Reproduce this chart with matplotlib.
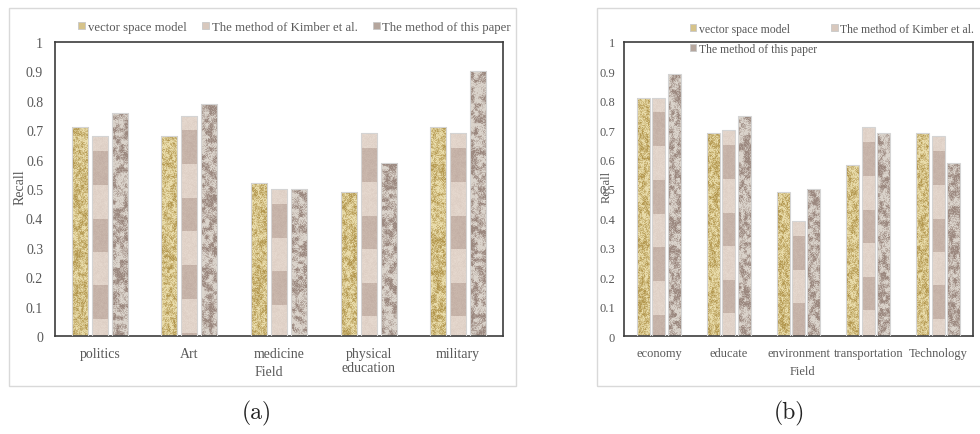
import numpy as np
import matplotlib
matplotlib.use("Agg")
import matplotlib.pyplot as plt
from matplotlib.patches import Patch, Rectangle

# recall per field, three methods
methods = ["vector space model", "The method of Kimber et al.", "The method of this paper"]

fields_a = ["politics", "Art", "medicine", "physical\neducation", "military"]
vsm_a = [0.71, 0.68, 0.52, 0.49, 0.71]
kimber_a = [0.68, 0.75, 0.50, 0.69, 0.69]
ours_a = [0.76, 0.79, 0.50, 0.59, 0.90]

fields_b = ["economy", "educate", "environment", "transportation", "Technology"]
vsm_b = [0.81, 0.69, 0.49, 0.58, 0.69]
kimber_b = [0.81, 0.70, 0.39, 0.71, 0.68]
ours_b = [0.89, 0.75, 0.50, 0.69, 0.59]

TXT = "#595959"
SERIF = ["Liberation Serif", "DejaVu Serif"]
plt.rcParams["font.family"] = SERIF

rng = np.random.default_rng(7)


def blur(n, k=1):
    out = np.zeros_like(n)
    cnt = 0
    for dy in range(-k, k + 1):
        for dx in range(-k, k + 1):
            out += np.roll(np.roll(n, dy, 0), dx, 1)
            cnt += 1
    return out / cnt


def grain(h, w, s=3, fine=0.4):
    # coarse blotches plus pixel speckle, scaled to 0..1
    coarse = rng.random((h // s + 2, w // s + 2))
    coarse = blur(np.kron(coarse, np.ones((s, s)))[:h, :w], 1)
    n = (1 - fine) * coarse + fine * rng.random((h, w))
    n -= n.min()
    return n / max(n.max(), 1e-9)


def mix(c1, c2, t):
    c1 = np.array(matplotlib.colors.to_rgb(c1))
    c2 = np.array(matplotlib.colors.to_rgb(c2))
    return c1 + (c2 - c1) * t[..., None]


def tex_gold(h, w):
    n = grain(h, w, 3, 0.45)
    return mix("#e9dcab", "#b3974f", np.clip((n - 0.25) * 1.7, 0, 1))


def tex_granite(h, w):
    n = grain(h, w, 4, 0.35)
    return mix("#dad3cb", "#9b887f", np.clip((n - 0.3) * 2.2, 0, 1))


def tex_bands(h, w, top):
    n = grain(h, w, 2, 0.5)
    d = np.linspace(0, top, h)[:, None] * np.ones((1, w))
    dark = (d >= 0.05) & (((d - 0.05) // 0.115) % 2 == 0)
    light = mix("#e7dad0", "#dccdc3", n)
    darkc = mix("#ccbaaf", "#c1ada3", n)
    return np.where(dark[..., None], darkc, light)


def draw_panel(ax, fields, series, width, step, tick_fs, lab_fs):
    x = np.arange(len(fields))
    for k, vals in enumerate(series):
        bars = ax.bar(x + (k - 1) * step, vals, width, facecolor="none",
                      edgecolor="#d4d4d4", linewidth=0.8, zorder=3)
        for b in bars:
            h = b.get_height()
            rows, cols = max(int(h * 296), 2), 17
            if k == 0:
                img = tex_gold(rows, cols)
            elif k == 1:
                img = tex_bands(rows, cols, h)
            else:
                img = tex_granite(rows, cols)
            x0 = b.get_x()
            im = ax.imshow(img, extent=(x0, x0 + b.get_width(), 0, h),
                           aspect="auto", zorder=2, interpolation="nearest")
            im.set_clip_path(b)
    ax.set_xlim(-0.5, len(fields) - 0.5)
    ax.set_ylim(0, 1)
    ax.set_yticks(np.arange(0, 1.01, 0.1))
    ax.set_yticklabels(["0", "0.1", "0.2", "0.3", "0.4", "0.5", "0.6",
                        "0.7", "0.8", "0.9", "1"])
    ax.set_xticks(x)
    ax.set_xticklabels(fields, linespacing=1.1)
    ax.tick_params(length=0, colors=TXT, labelsize=tick_fs)
    for s in ax.spines.values():
        s.set_color("#3c3c3c")
        s.set_linewidth(1.2)
    ax.set_ylabel("Recall", color=TXT, fontsize=lab_fs)
    ax.set_xlabel("Field", color=TXT, fontsize=lab_fs)


W, H = 980, 435
fig = plt.figure(figsize=(W / 100, H / 100), dpi=100)


def fx(px):
    return px / W


def fy(py):
    return 1 - py / H


# outer frames of the two sub-figures
fig.patches.append(Rectangle((fx(9), fy(387)), fx(507), 378 / H, transform=fig.transFigure,
                             facecolor="none", edgecolor="#d9d9d9", lw=1, zorder=-1))
fig.patches.append(Rectangle((fx(597), fy(387)), fx(400), 378 / H, transform=fig.transFigure,
                             facecolor="none", edgecolor="#d9d9d9", lw=1, zorder=-1))

ax_a = fig.add_axes([fx(55), fy(337), fx(448), 294 / H])
ax_b = fig.add_axes([fx(624), fy(337), fx(349), 294 / H])
ax_a.patch.set_alpha(0)
ax_b.patch.set_alpha(0)

draw_panel(ax_a, fields_a, [vsm_a, kimber_a, ours_a], 0.179, 0.223, 10, 10)
draw_panel(ax_b, fields_b, [vsm_b, kimber_b, ours_b], 0.186, 0.22, 9, 9)

ax_a.tick_params(axis="y", pad=8.5)
ax_a.tick_params(axis="x", pad=8)
ax_b.tick_params(axis="y", pad=6.5)
ax_b.tick_params(axis="x", pad=8)

ax_a.yaxis.set_label_coords(-0.0625, 0.51)
ax_a.xaxis.set_label_coords(0.478, -0.1)
ax_b.yaxis.set_label_coords(-0.0315, 0.51)
ax_b.xaxis.set_label_coords(0.51, -0.1)

handle_cols = ["#d6c38a", "#d8c8bd", "#b5a69d"]
handles = [Patch(facecolor=c, edgecolor="#c8c8c8", lw=0.6) for c in handle_cols]

fig.legend(handles, methods, loc="center left", bbox_to_anchor=(fx(72), fy(28)),
           ncol=3, frameon=False, fontsize=9.2, handlelength=0.55, handleheight=0.55,
           handletextpad=0.2, columnspacing=1.2, borderpad=0, labelcolor=TXT)

order = [0, 2, 1]
fig.legend([handles[i] for i in order], [methods[i] for i in order], loc="upper left",
           bbox_to_anchor=(fx(684), fy(18)), ncol=2, frameon=False, fontsize=8.5,
           handlelength=0.55, handleheight=0.55, handletextpad=0.2, columnspacing=1.2,
           labelspacing=0.65, borderpad=0, labelcolor=TXT)

fig.text(fx(257), fy(413), "(a)", ha="center", va="center", fontsize=17,
         family=["cmr10", "DejaVu Serif"], color="#222222")
fig.text(fx(789), fy(413), "(b)", ha="center", va="center", fontsize=17,
         family=["cmr10", "DejaVu Serif"], color="#222222")

fig.savefig("out.png", dpi=100)
